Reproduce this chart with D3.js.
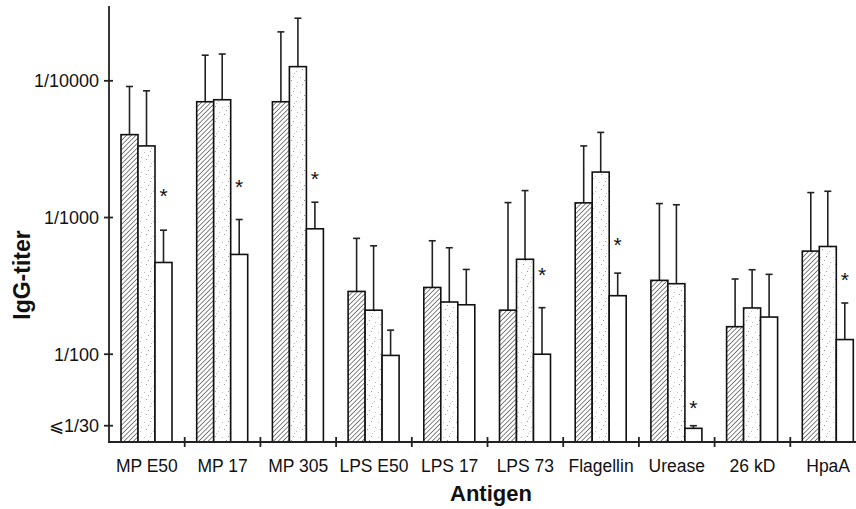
<!DOCTYPE html>
<meta charset="utf-8">
<html>
  <head>
    <style>
      body { margin: 0; background: #fff; }
      text { font-family: "Liberation Sans", Arial, sans-serif; fill: #111; }
      text.tick { font-size: 18px; }
      text.cat { font-size: 17.5px; }
      text.title { font-size: 22px; font-weight: bold; }
      text.ytitle { font-size: 23px; font-weight: bold; }
      text.star { font-size: 21px; }
      .axis-line { stroke: #222; stroke-width: 1.8px; fill: none; }
      rect.bar { stroke: #111; stroke-width: 1.6px; }
      line.err { stroke: #222; stroke-width: 1.6px; }
    </style>
    <script src="https://d3js.org/d3.v7.min.js"></script>
  </head>
  <body>
    <div id="chart"></div>
    <script type="text/javascript">
      var categories = ["MP E50", "MP 17", "MP 305", "LPS E50", "LPS 17", "LPS 73", "Flagellin", "Urease", "26 kD", "HpaA"];
      var seriesNames = ["hatched", "dotted", "open"];

      // mean titers (reciprocal) and upper error bar ends
      var hatchedValues = [4040, 7030, 7030, 288, 308, 210, 1280, 347, 159, 568];
      var hatchedUpper  = [9090, 15400, 22800, 704, 676, 1286, 3340, 1265, 355, 1522];
      var dottedValues  = [3340, 7270, 12700, 210, 241, 495, 2150, 328, 218, 614];
      var dottedUpper   = [8450, 15700, 28700, 621, 601, 1574, 4195, 1240, 415, 1556];
      var openValues    = [469, 537, 827, 98, 230, 100, 268, 28.7, 187, 128];
      var openUpper     = [808, 967, 1294, 150, 417, 219, 392, 30, 384, 237];
      // where the significance star sits (titer level), null = none
      var starLevels    = [1575, 1832, 2095, null, null, 410, 680, 43.9, null, 377];

      var tickValues = [30, 100, 1000, 10000];
      var tickLabels = ["\u2A7D1/30", "1/100", "1/1000", "1/10000"];

      var width = 856, height = 509;
      var x0 = 109, yBase = 442, yTop = 6, groupW = 75.7;

      var svg = d3.select("#chart").append("svg")
          .attr("width", width)
          .attr("height", height);

      var defs = svg.append("defs");
      var hatch = defs.append("pattern")
          .attr("id", "hatch")
          .attr("patternUnits", "userSpaceOnUse")
          .attr("width", 3.3).attr("height", 3.3)
          .attr("patternTransform", "rotate(45)");
      hatch.append("rect").attr("width", 3.3).attr("height", 3.3).attr("fill", "#fff");
      hatch.append("line")
          .attr("x1", 0).attr("y1", 0).attr("x2", 0).attr("y2", 3.3)
          .attr("stroke", "#333").attr("stroke-width", 1.2);

      var dots = defs.append("pattern")
          .attr("id", "dots")
          .attr("patternUnits", "userSpaceOnUse")
          .attr("width", 13).attr("height", 15);
      dots.append("rect").attr("width", 13).attr("height", 15).attr("fill", "#fff");
      [[1, 2], [7, 1], [11, 7], [3, 9], [8, 13], [5, 5], [10, 11]].forEach(function (p, i) {
        dots.append("rect").attr("x", p[0]).attr("y", p[1])
          .attr("width", 1).attr("height", 1)
          .attr("fill", i % 2 ? "#999" : "#bbb");
      });

      var fills = { hatched: "url(#hatch)", dotted: "url(#dots)", open: "#fff" };

      var x = d3.scaleBand()
          .domain(categories)
          .range([x0, x0 + groupW * categories.length]);

      var xs = d3.scaleBand()
          .domain(seriesNames)
          .range([12, 63]);

      // 137 px per decade, 1/100 at y=354
      var y = d3.scaleLog()
          .domain([22.8, 35260])
          .range([yBase, yTop]);

      var data = [];
      categories.forEach(function (c, i) {
        data.push({ cat: c, s: "hatched", v: hatchedValues[i], up: hatchedUpper[i] });
        data.push({ cat: c, s: "dotted", v: dottedValues[i], up: dottedUpper[i] });
        data.push({ cat: c, s: "open", v: openValues[i], up: openUpper[i] });
      });

      function cx(d) { return x(d.cat) + xs(d.s) + xs.bandwidth() / 2; }

      // error bars behind bars
      svg.selectAll(".err")
          .data(data)
          .enter().append("line")
            .attr("class", "err")
            .attr("x1", cx).attr("x2", cx)
            .attr("y1", function (d) { return y(d.v); })
            .attr("y2", function (d) { return y(d.up); });

      svg.selectAll(".cap")
          .data(data)
          .enter().append("line")
            .attr("class", "err")
            .attr("x1", function (d) { return cx(d) - 3.5; })
            .attr("x2", function (d) { return cx(d) + 3.5; })
            .attr("y1", function (d) { return y(d.up); })
            .attr("y2", function (d) { return y(d.up); });

      svg.selectAll(".bar")
          .data(data)
          .enter().append("rect")
            .attr("class", "bar")
            .attr("x", function (d) { return x(d.cat) + xs(d.s); })
            .attr("y", function (d) { return y(d.v); })
            .attr("width", xs.bandwidth())
            .attr("height", function (d) { return yBase - y(d.v); })
            .attr("fill", function (d) { return fills[d.s]; });

      svg.selectAll(".star")
          .data(categories.map(function (c, i) { return { cat: c, lv: starLevels[i] }; })
                .filter(function (d) { return d.lv !== null; }))
          .enter().append("text")
            .attr("class", "star")
            .attr("text-anchor", "middle")
            .attr("x", function (d) { return x(d.cat) + xs("open") + xs.bandwidth() / 2; })
            .attr("y", function (d) { return y(d.lv) + 12; })
            .text("*");

      // axes
      svg.append("line").attr("class", "axis-line")
          .attr("x1", x0).attr("x2", x0)
          .attr("y1", yTop).attr("y2", yBase);
      svg.append("line").attr("class", "axis-line")
          .attr("x1", x0 - 1).attr("x2", width)
          .attr("y1", yBase).attr("y2", yBase);

      svg.selectAll(".ytick")
          .data(tickValues)
          .enter().append("line")
            .attr("class", "axis-line")
            .attr("x1", x0 - 5).attr("x2", x0 + 4)
            .attr("y1", function (d) { return y(d); })
            .attr("y2", function (d) { return y(d); });

      svg.selectAll(".ylab")
          .data(tickValues)
          .enter().append("text")
            .attr("class", "tick")
            .attr("text-anchor", "end")
            .attr("x", x0 - 10)
            .attr("y", function (d) { return y(d); })
            .attr("dy", "0.36em")
            .text(function (d, i) { return tickLabels[i]; });

      svg.selectAll(".xtick")
          .data(categories.slice(1))
          .enter().append("line")
            .attr("class", "axis-line")
            .attr("x1", function (d) { return x(d); })
            .attr("x2", function (d) { return x(d); })
            .attr("y1", yBase - 5).attr("y2", yBase + 5);

      svg.selectAll(".xlab")
          .data(categories)
          .enter().append("text")
            .attr("class", "cat")
            .attr("text-anchor", "middle")
            .attr("x", function (d) { return x(d) + x.bandwidth() / 2; })
            .attr("y", 472)
            .text(function (d) { return d; });

      svg.append("text")
          .attr("class", "title")
          .attr("text-anchor", "middle")
          .attr("x", 491)
          .attr("y", 501)
          .text("Antigen");

      svg.append("text")
          .attr("class", "ytitle")
          .attr("text-anchor", "middle")
          .attr("transform", "translate(30,275) rotate(-90)")
          .text("IgG-titer");
    </script>
  </body>
</html>
